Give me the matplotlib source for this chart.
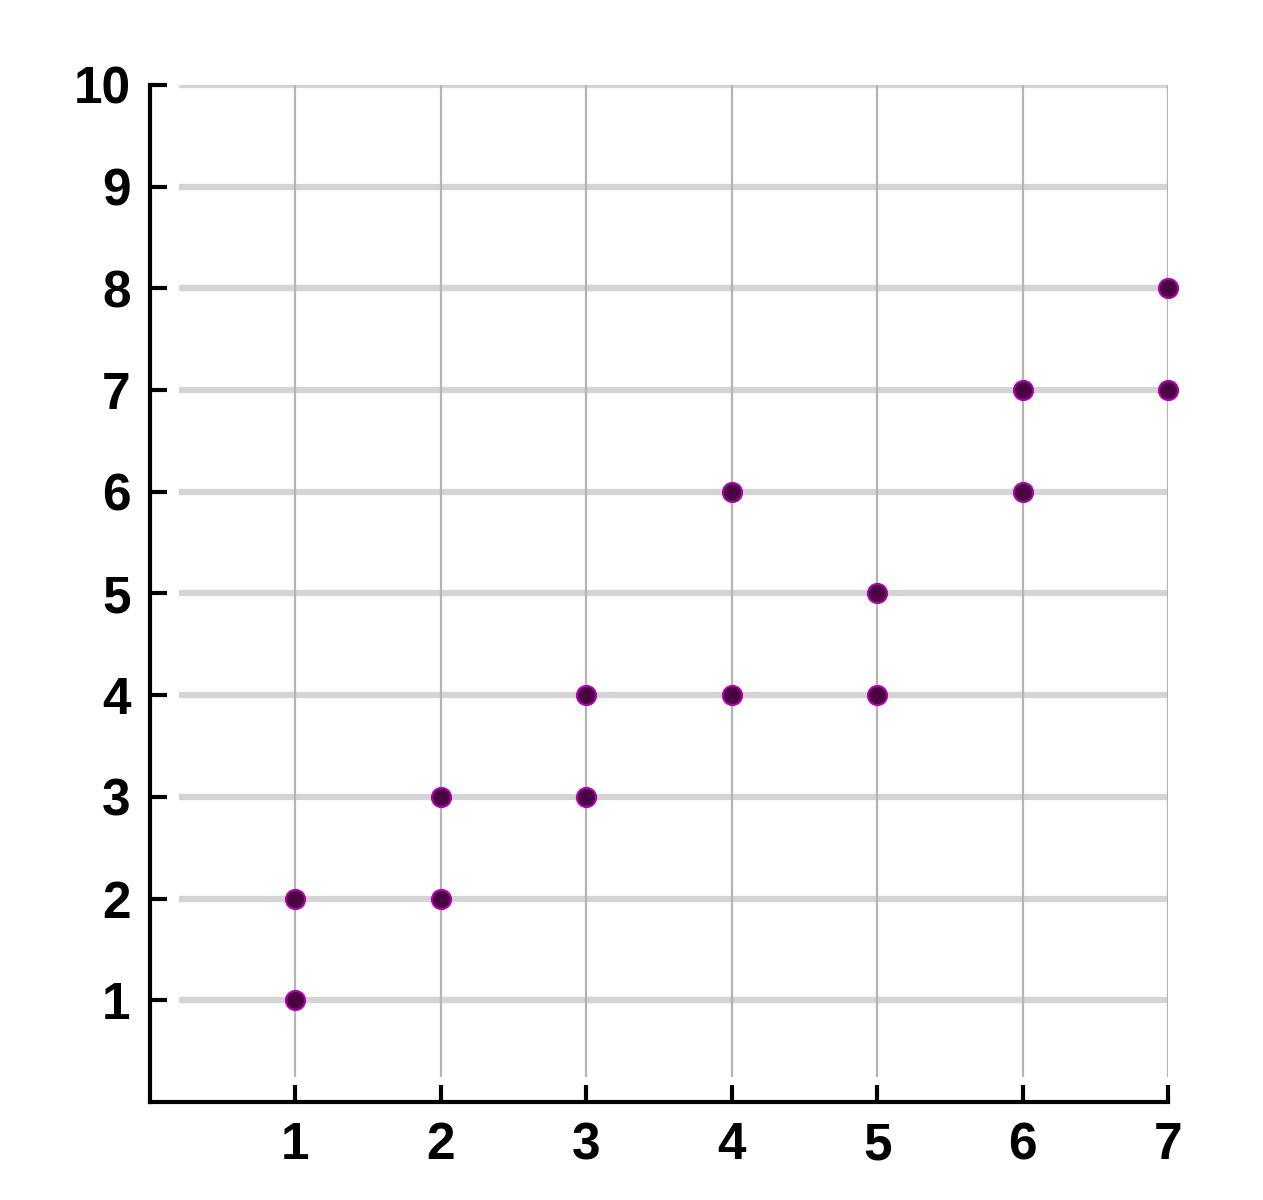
import matplotlib.pyplot as plt

# points
x_vals = [1, 1, 2, 2, 3, 3, 4, 4, 5, 5, 6, 6, 7, 7]
y_vals = [1, 2, 2, 3, 3, 4, 4, 6, 4, 5, 6, 7, 7, 8]
x_ticks = [1, 2, 3, 4, 5, 6, 7]
y_ticks = [1, 2, 3, 4, 5, 6, 7, 8, 9, 10]

plt.rcParams['font.family'] = ['Liberation Sans', 'DejaVu Sans']

fig = plt.figure(figsize=(12.63, 12), dpi=100)
ax = fig.add_axes([0.1188, 0.0817, 0.806, 0.8475])

ax.set_xlim(0, 7)
ax.set_ylim(0, 10)

# grid: thick pale horizontals, thin darker verticals
ax.hlines(y_ticks, 0.2, 7, colors='#d4d4d4', linewidth=4.5, zorder=1)
ax.vlines(x_ticks, 0.25, 10, colors='#b4b4b4', linewidth=1.6, zorder=1)

ax.scatter(x_vals, y_vals, s=190, c='#4a0042', edgecolors='#b000b0',
           linewidths=1.5, zorder=3, clip_on=False)

ax.set_xticks(x_ticks)
ax.set_yticks(y_ticks)
ax.tick_params(direction='in', length=12, width=3, labelsize=37, pad=14)
for lab in ax.get_xticklabels() + ax.get_yticklabels():
    lab.set_fontweight('bold')

ax.spines['top'].set_visible(False)
ax.spines['right'].set_visible(False)
ax.spines['left'].set_linewidth(3)
ax.spines['bottom'].set_linewidth(3)

fig.savefig('out.png', dpi=100)
